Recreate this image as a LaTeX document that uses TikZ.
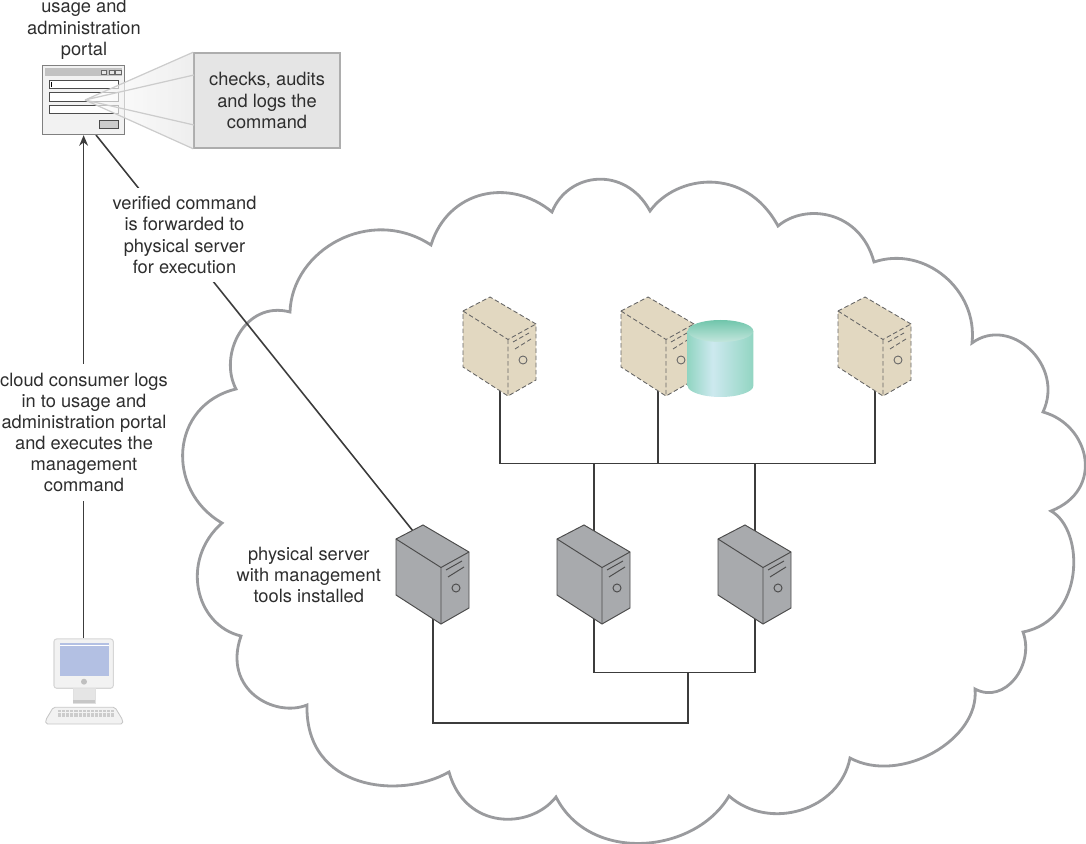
\documentclass[tikz,border=0pt]{standalone}
\usepackage{fontspec}
\setmainfont{TeX Gyre Heros}
\usetikzlibrary{positioning,calc,arrows.meta}
\pgfdeclarelayer{wires}
\pgfsetlayers{wires,main}
\definecolor{inkgray}{HTML}{2E2E2E}
\definecolor{cloudgray}{HTML}{9A9B9E}
\definecolor{wiregray}{HTML}{3C3C3C}
\definecolor{casegray}{HTML}{A8AAAD}
\definecolor{casebeige}{HTML}{E2D8C1}
\definecolor{screenblue}{HTML}{B3C0E3}
\definecolor{cylside}{HTML}{92D5C2}
\definecolor{cyllight}{HTML}{CDE9EF}
\definecolor{cyltop}{HTML}{70C5AB}
\definecolor{cylrim}{HTML}{C3E6DD}
\pgfdeclarehorizontalshading{cylbody}{100bp}{color(0bp)=(cylside); color(25bp)=(cylside); color(44bp)=(cyllight); color(75bp)=(cylside); color(100bp)=(cylside)}
\tikzset{
 labeltext/.style={text=inkgray,align=center,font=\fontsize{10.4}{12.05}\selectfont},
 wire/.style={draw=wiregray,line width=0.9pt},
 graycase/.style={draw=black!70,line width=0.55pt,fill=casegray},
 beigecase/.style={draw=black!60,line width=0.5pt,dash pattern=on 2.6pt off 1.5pt,fill=casebeige},
 pics/server/.style={code={
  \draw[#1] (0,0)--(27,-14)--(73,13)--(73,69)--(45,85)--(0,56)--cycle;
  \draw[#1,fill=none] (0,0)--(45,28.5)--(73,13) (45,28.5)--(45,85);
  \draw[#1,fill=none] (50,31)--(66,22) (52,38)--(68,28);
  \draw[#1,fill=none,solid] (60,49) circle (4);
  \coordinate (-top) at (37,-8);
  \coordinate (-edge) at (17,-8);
  \coordinate (-bottom) at (37,79);
 }},
}
\begin{document}
\begin{tikzpicture}[x=0.02cm,y=-0.02cm,>={Stealth[length=6pt,width=5pt]}]
\useasboundingbox (0,0) rectangle (1086,844);
\begin{pgfonlayer}{wires}
\draw[draw=cloudgray,line width=1.6pt,line join=miter] (236,389)
 .. controls (218,355) and (245,300) .. (290,312)
 .. controls (292,250) and (370,205) .. (431,245)
 .. controls (448,190) and (510,177) .. (552,212)
 .. controls (568,172) and (625,165) .. (650,211)
 .. controls (676,175) and (745,165) .. (778,226)
 .. controls (805,203) and (860,210) .. (874,262)
 .. controls (925,245) and (978,290) .. (972,343)
 .. controls (1010,315) and (1065,365) .. (1043,412)
 .. controls (1090,425) and (1105,490) .. (1051,511)
 .. controls (1085,530) and (1085,620) .. (1023,632)
 .. controls (1035,665) and (1005,705) .. (975,689)
 .. controls (980,740) and (900,785) .. (850,758)
 .. controls (840,810) and (770,832) .. (729,796)
 .. controls (695,854) and (590,864) .. (556,797)
 .. controls (530,830) and (465,830) .. (449,772)
 .. controls (400,800) and (305,790) .. (307,705)
 .. controls (275,718) and (222,690) .. (241,636)
 .. controls (195,625) and (180,560) .. (222,523)
 .. controls (165,490) and (170,405) .. (236,389) -- cycle;
\end{pgfonlayer}
\pic (b1) at (463,311) {server=beigecase};
\pic (b2) at (621,311) {server=beigecase};
\pic (b3) at (838,311) {server=beigecase};
\pic (m1) at (396,539) {server=graycase};
\pic (m2) at (557,539) {server=graycase};
\pic (m3) at (718,539) {server=graycase};
\coordinate (bus) at (594,463.5);
\coordinate (lowbus) at (688,672.7);
\coordinate (mainbus) at (688,723);
\begin{pgfonlayer}{wires}
\draw[wire] (b1-bottom)--(b1-bottom |- bus)--(b3-bottom |- bus)--(b3-bottom);
\draw[wire] (b2-bottom)--(b2-bottom |- bus);
\draw[wire] (m2-top)--(m2-top |- bus);
\draw[wire] (m3-top)--(m3-top |- bus);
\draw[wire] (m2-bottom)--(m2-bottom |- lowbus)--(m3-bottom |- lowbus)--(m3-bottom);
\draw[wire] (lowbus)--(mainbus)--(m1-bottom |- mainbus)--(m1-bottom);
\end{pgfonlayer}
\shade[shading=cylbody] (687.7,331)--(687.7,386) .. controls (687.7,392) and (703,397) .. (720.5,397) .. controls (738,397) and (753.3,392) .. (753.3,386)--(753.3,331)--cycle;
\shade[top color=cyltop,bottom color=cylrim] (720.5,331) ellipse (32.8 and 11);
\node (portal) at (83.5,100.2) [draw=black!50,line width=0.6pt,fill=black!5,minimum width=1.648cm,minimum height=1.38cm,inner sep=0pt] {};
\fill[black!24] (45,68.3) rectangle (122,76);
\draw[black!60,line width=0.3pt,fill=black!10] (101.7,70) rectangle (106,74.7) (109.3,70) rectangle (114,74.7) (115.7,70) rectangle (121,74.7);
\foreach \fieldy in {80.3,92.7,105}
 \draw[black!70,line width=0.5pt,fill=white] (49.3,\fieldy) rectangle (118.3,\fieldy+8.4);
\draw[black,line width=0.4pt] (51.5,82) -- (51.5,87);
\draw[black!70,line width=0.5pt,fill=black!20] (99.3,120.3) rectangle (118.3,128.3);
\node (checks) at (267,100.5) [draw=black!32,line width=0.9pt,fill=black!10,minimum width=2.92cm,minimum height=1.9cm,inner sep=0pt,labeltext] {checks, audits\\and logs the\\command};
\coordinate (apex) at (85,100);
\shade[left color=white,right color=black!10,opacity=0.65] (apex)--(checks.north west)--(checks.south west)--cycle;
\draw[black!20,line width=0.7pt] (apex)--(checks.north west) (apex)--(194,75) (apex)--(194,125) (apex)--(checks.south west);
\node (monitor) at (83.65,663.6) [draw=black!16,line width=0.6pt,fill=black!5,rounded corners=1.5pt,minimum width=1.186cm,minimum height=0.986cm,inner sep=0pt] {};
\fill[screenblue] (60,643.3) rectangle (109,676);
\draw[white,line width=0.6pt] (60,645.5)--(109,645.5);
\fill[black!25] (84,681.7) circle (3);
\draw[draw=black!12,fill=black!10,line width=0.4pt] (73.3,688.3) rectangle (95,703.3);
\fill[black!22] (73.3,700) rectangle (95,703.3);
\draw[draw=black!22,fill=black!5,line width=0.5pt,rounded corners=1pt] (53.3,707.3)--(115,707.3)--(122.7,720)--(122.7,724)--(45.7,724)--(45.7,720)--cycle;
\foreach \keyx in {0,...,13}
 \foreach \keyy in {0,1,2}
  \fill[black!20] ({58+\keyx*4.1},{710+\keyy*2.7}) rectangle +(3.1,1.9);
\coordinate (portalout) at (96,135);
\begin{pgfonlayer}{wires}
\draw[wire] (portalout)--(m1-edge);
\end{pgfonlayer}
\draw[->,wire] (monitor.north)--(monitor.north |- portal.south);
\node (usage) at (84,29.5) [labeltext] {usage and\\administration\\portal};
\node (verified) at (184.5,235) [labeltext,fill=white,inner sep=5pt] {verified command\\is forwarded to\\physical server\\for execution};
\node (consumer) at (84,432.5) [labeltext,fill=white,inner sep=5pt] {cloud consumer logs\\in to usage and\\administration portal\\and executes the\\management\\command};
\node (tools) at (308.8,575) [labeltext] {physical server\\with management\\tools installed};
\end{tikzpicture}
\end{document}
